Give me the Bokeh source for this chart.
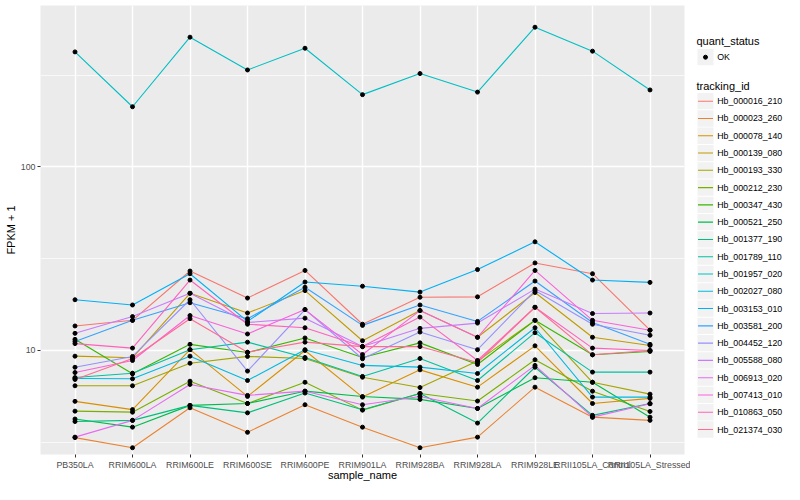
from bokeh.plotting import figure
from bokeh.layouts import row
from bokeh.models import Range1d, FactorRange, FixedTicker, PrintfTickFormatter
from bokeh.embed import file_html
from bokeh.resources import INLINE
from bokeh.core.properties import value

samples = ["PB350LA", "RRIM600LA", "RRIM600LE", "RRIM600SE", "RRIM600PE", "RRIM901LA",
           "RRIM928BA", "RRIM928LA", "RRIM928LE", "RRII105LA_Control", "RRII105LA_Stressed"]

tracking_ids = ["Hb_000016_210", "Hb_000023_260", "Hb_000078_140", "Hb_000139_080",
                "Hb_000193_330", "Hb_000212_230", "Hb_000347_430", "Hb_000521_250",
                "Hb_001377_190", "Hb_001789_110", "Hb_001957_020", "Hb_002027_080",
                "Hb_003153_010", "Hb_003581_200", "Hb_004452_120", "Hb_005588_080",
                "Hb_006913_020", "Hb_007413_010", "Hb_010863_050", "Hb_021374_030"]

# FPKM + 1 per sample
Hb_000016_210 = [13.6, 14.6, 27.1, 19.3, 27.3, 13.9, 19.5, 19.6, 30.0, 26.2, 12.9]
Hb_000023_260 = [3.35, 2.95, 4.87, 3.58, 5.06, 3.82, 2.95, 3.37, 6.31, 4.33, 4.16]
Hb_000078_140 = [5.28, 4.76, 10.1, 5.62, 10.0, 5.57, 7.84, 6.31, 10.6, 5.14, 5.48]
Hb_000139_080 = [9.31, 9.12, 20.5, 16.0, 21.2, 11.3, 16.5, 11.8, 20.7, 11.8, 10.65]
Hb_000193_330 = [6.42, 6.42, 8.52, 9.28, 9.04, 7.15, 6.28, 8.75, 14.6, 6.71, 5.78]
Hb_000212_230 = [4.67, 4.61, 6.80, 5.14, 6.71, 4.73, 5.83, 5.30, 8.90, 6.00, 4.65]
Hb_000347_430 = [11.5, 7.46, 10.8, 9.75, 11.7, 9.16, 11.0, 8.39, 14.6, 9.47, 9.88]
Hb_000521_250 = [4.23, 3.82, 5.02, 5.14, 6.00, 5.61, 5.41, 4.83, 7.10, 6.71, 4.33]
Hb_001377_190 = [4.10, 4.16, 5.02, 4.57, 5.86, 4.75, 5.83, 4.02, 8.10, 4.43, 5.14]
Hb_001789_110 = [7.12, 7.52, 10.1, 11.1, 9.16, 7.22, 9.04, 6.86, 12.5, 7.62, 7.62]
Hb_001957_020 = [424, 213, 510, 338, 444, 248, 323, 256, 578, 428, 263]
Hb_002027_080 = [7.04, 7.01, 9.31, 6.86, 10.1, 8.29, 8.11, 7.49, 13.3, 5.57, 5.57]
Hb_003153_010 = [18.9, 17.7, 26.2, 14.4, 23.6, 22.4, 20.8, 27.6, 39.1, 24.2, 23.5]
Hb_003581_200 = [11.2, 14.6, 18.2, 14.9, 22.1, 13.7, 17.7, 14.4, 23.9, 14.2, 10.8]
Hb_004452_120 = [8.10, 9.28, 18.9, 7.72, 16.7, 9.01, 12.6, 10.1, 21.2, 13.9, 12.1]
Hb_005588_080 = [12.4, 15.3, 20.5, 14.2, 15.0, 10.5, 13.2, 14.1, 21.6, 15.9, 16.0]
Hb_006913_020 = [3.37, 4.16, 6.53, 5.69, 6.00, 5.06, 5.61, 4.83, 8.29, 4.33, 5.12]
Hb_007413_010 = [7.58, 8.82, 15.5, 12.3, 16.7, 9.50, 16.5, 11.8, 27.3, 14.6, 12.9]
Hb_010863_050 = [10.9, 10.3, 24.2, 13.9, 13.3, 10.5, 15.2, 8.82, 17.2, 10.3, 10.0]
Hb_021374_030 = [6.95, 9.04, 14.9, 9.79, 11.1, 10.5, 10.5, 8.60, 17.2, 9.47, 10.0]

series_values = [Hb_000016_210, Hb_000023_260, Hb_000078_140, Hb_000139_080,
                 Hb_000193_330, Hb_000212_230, Hb_000347_430, Hb_000521_250,
                 Hb_001377_190, Hb_001789_110, Hb_001957_020, Hb_002027_080,
                 Hb_003153_010, Hb_003581_200, Hb_004452_120, Hb_005588_080,
                 Hb_006913_020, Hb_007413_010, Hb_010863_050, Hb_021374_030]

quant_status = ["OK"]
y_ticks = [10, 100]
y_minor_ticks = [3.162, 31.62, 316.2]

palette = ["#F8766D", "#EA8331", "#D89000", "#C09B00", "#A3A500", "#7CAE00", "#39B600",
           "#00BB4E", "#00BF7D", "#00C1A3", "#00BFC4", "#00BAE0", "#00B0F6", "#35A2FF",
           "#9590FF", "#C77CFF", "#E76BF3", "#FA62DB", "#FF62BC", "#FF6C91"]

FONT = "Liberation Sans"
TOP, BOTTOM = 5, 30

p = figure(width=690, height=484,
           x_range=FactorRange(factors=samples, range_padding=0.1, range_padding_units="absolute"),
           y_axis_type="log", y_range=Range1d(2.71, 759),
           output_backend="svg", toolbar_location=None,
           min_border_left=40, min_border_right=6, min_border_top=TOP, min_border_bottom=BOTTOM)

p.background_fill_color = "#EBEBEB"
p.border_fill_color = "white"
p.outline_line_color = None

tick = FixedTicker(ticks=y_ticks, minor_ticks=y_minor_ticks)
p.yaxis.ticker = tick
p.ygrid.ticker = tick
p.yaxis.formatter = PrintfTickFormatter(format="%d")

for g in (p.xgrid, p.ygrid):
    g.grid_line_color = "white"
    g.grid_line_width = 1.4
p.ygrid.minor_grid_line_color = "white"
p.ygrid.minor_grid_line_width = 0.7

for ax in (p.xaxis, p.yaxis):
    ax.axis_line_color = None
    ax.major_tick_line_color = "#333333"
    ax.major_tick_out = 3
    ax.major_tick_in = 0
    ax.minor_tick_line_color = None
    ax.major_label_text_color = "#4D4D4D"
    ax.major_label_text_font_size = "8.8px"
    ax.major_label_text_font = FONT
    ax.axis_label_text_font = FONT
    ax.axis_label_text_font_size = "11px"
    ax.axis_label_text_font_style = "normal"
    ax.axis_label_text_color = "black"
p.yaxis.major_label_standoff = 1
p.yaxis.axis_label_standoff = 1
p.xaxis.major_label_standoff = 2
p.xaxis.axis_label_standoff = -4

p.xaxis.axis_label = "sample_name"
p.yaxis.axis_label = "FPKM + 1"
p.xaxis.major_label_orientation = "horizontal"

for vals, col in zip(series_values, palette):
    p.line(x=samples, y=vals, line_color=col, line_width=1.1)
for vals in series_values:
    p.scatter(x=samples, y=vals, size=4, color="black")

# legend panel (coordinates are page pixels)
lg = figure(width=94, height=484, x_range=Range1d(690, 784), y_range=Range1d(484 - BOTTOM, TOP),
            output_backend="svg", toolbar_location=None,
            x_axis_location=None, y_axis_location=None,
            min_border_left=0, min_border_right=0, min_border_top=TOP, min_border_bottom=BOTTOM)
lg.grid.visible = False
lg.outline_line_color = None
lg.background_fill_color = "white"
lg.border_fill_color = "white"

pitch = 17.28
key_x, key_w, key_h = 705, 16, 16.3
title_x, label_x = 696, 716.7

lg.text(x=[title_x], y=[40.7], text=["quant_status"], text_font=value(FONT), text_font_size="11px",
        text_baseline="middle", text_color="black")
lg.rect(x=[key_x], y=[56.7], width=key_w, height=key_h, fill_color="#F2F2F2", line_color=None)
lg.scatter(x=[key_x], y=[56.7], size=4, color="black")
lg.text(x=[label_x], y=[56.7], text=quant_status, text_font=value(FONT), text_font_size="8.8px",
        text_baseline="middle", text_color="black")

lg.text(x=[title_x], y=[85], text=["tracking_id"], text_font=value(FONT), text_font_size="11px",
        text_baseline="middle", text_color="black")
n = len(tracking_ids)
ys = [100.7 + pitch * i for i in range(n)]
lg.rect(x=[key_x] * n, y=ys, width=key_w, height=key_h, fill_color="#F2F2F2", line_color=None)
lg.segment(x0=[key_x - key_w / 2 + 0.5] * n, x1=[key_x + key_w / 2 - 0.5] * n, y0=ys, y1=ys,
           line_color=palette, line_width=1.1)
lg.text(x=[label_x] * n, y=ys, text=tracking_ids, text_font=value(FONT), text_font_size="8.8px",
        text_baseline="middle", text_color="black")

layout = row(p, lg)
open("out.html", "w").write(file_html(layout, INLINE))
